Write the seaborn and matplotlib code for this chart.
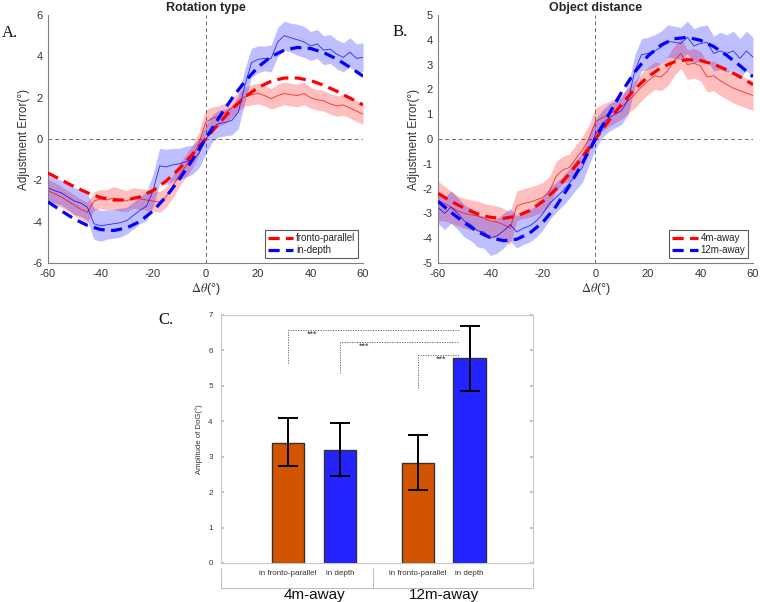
import numpy as np
import pandas as pd
import matplotlib
matplotlib.use("Agg")
import matplotlib.pyplot as plt
import seaborn as sns

# --- data ---
# raw mean curves, sampled every 2.5 deg
theta = np.arange(-60, 60.1, 2.5)

rot_fp_mean = [-2.5, -2.65, -2.8, -3.0, -3.2, -3.4, -3.55, -3.0, -2.9, -2.95,
               -2.85, -2.95, -3.0, -2.85, -2.9, -2.95, -3.0, -3.05, -2.8, -2.3,
               -1.75, -1.3, -0.85, -0.2, 0.8, 1.0, 1.1, 1.25, 1.5, 1.8,
               2.05, 2.15, 2.2, 2.1, 1.95, 2.1, 2.2, 2.15, 2.1, 2.2,
               2.0, 1.9, 1.85, 1.7, 1.6, 1.65, 1.5, 1.35, 1.2]
rot_fp_sem = [0.55, 0.55, 0.5, 0.5, 0.5, 0.5, 0.5, 0.45, 0.45, 0.5,
              0.55, 0.55, 0.5, 0.5, 0.5, 0.5, 0.5, 0.5, 0.5, 0.55,
              0.55, 0.55, 0.55, 0.55, 0.6, 0.55, 0.5, 0.5, 0.45, 0.45,
              0.45, 0.5, 0.5, 0.5, 0.5, 0.55, 0.55, 0.55, 0.55, 0.55,
              0.5, 0.5, 0.5, 0.5, 0.5, 0.5, 0.5, 0.5, 0.5]
rot_id_mean = [-2.35, -2.5, -2.6, -2.8, -3.0, -3.1, -3.3, -4.1, -4.2, -4.15,
               -4.1, -4.05, -3.95, -3.7, -3.45, -3.25, -2.5, -1.3, -1.35, -1.25,
               -1.2, -1.1, -1.0, -0.7, -0.05, 0.5, 0.75, 0.8, 0.9, 1.3,
               2.6, 3.7, 3.85, 3.9, 3.9, 4.7, 5.0, 4.9, 4.8, 4.7,
               4.5, 4.6, 4.3, 4.35, 4.1, 3.95, 4.2, 3.9, 3.95]
rot_id_sem = [0.6, 0.6, 0.6, 0.6, 0.65, 0.65, 0.65, 0.75, 0.75, 0.7,
              0.7, 0.7, 0.65, 0.65, 0.65, 0.7, 0.8, 0.85, 0.85, 0.8,
              0.75, 0.75, 0.7, 0.7, 0.7, 0.65, 0.65, 0.65, 0.7, 0.8,
              0.8, 0.7, 0.65, 0.6, 0.65, 0.7, 0.7, 0.7, 0.75, 0.75,
              0.7, 0.7, 0.7, 0.7, 0.7, 0.7, 0.7, 0.7, 0.7]

dist_4m_mean = [-2.5, -2.6, -2.75, -2.9, -3.0, -3.05, -3.1, -3.2, -3.3, -3.35,
                -3.45, -3.6, -2.7, -2.6, -2.55, -2.45, -2.35, -2.1, -1.5, -1.25,
                -1.15, -0.8, -0.45, 0.0, 0.7, 0.85, 1.0, 1.15, 1.3, 1.55,
                1.8, 2.1, 2.35, 2.55, 2.5, 2.75, 3.15, 3.45, 3.0, 3.05,
                2.95, 2.5, 2.55, 2.35, 2.2, 2.05, 1.95, 1.85, 1.75]
dist_4m_sem = [0.8, 0.7, 0.65, 0.6, 0.6, 0.6, 0.6, 0.6, 0.65, 0.65,
               0.65, 0.65, 0.6, 0.6, 0.6, 0.6, 0.6, 0.6, 0.6, 0.55,
               0.55, 0.55, 0.55, 0.55, 0.55, 0.55, 0.5, 0.5, 0.5, 0.5,
               0.55, 0.55, 0.55, 0.55, 0.55, 0.6, 0.6, 0.6, 0.6, 0.6,
               0.6, 0.6, 0.6, 0.6, 0.6, 0.6, 0.6, 0.6, 0.6]
dist_12m_mean = [-2.75, -3.0, -2.75, -3.0, -3.3, -3.45, -3.7, -3.75, -4.0, -3.9,
                 -3.7, -3.45, -3.75, -3.6, -3.5, -3.3, -3.0, -2.6, -2.35, -2.1,
                 -1.8, -1.45, -1.15, -0.45, 0.2, 0.6, 0.85, 1.0, 1.15, 1.6,
                 2.75, 3.4, 3.45, 3.55, 3.7, 3.95, 3.9, 3.85, 4.1, 3.75,
                 3.85, 3.9, 3.45, 3.55, 3.45, 3.55, 3.25, 3.55, 3.3]
dist_12m_sem = [0.65, 0.65, 0.65, 0.65, 0.65, 0.65, 0.65, 0.65, 0.7, 0.7,
                0.7, 0.65, 0.65, 0.65, 0.65, 0.65, 0.65, 0.65, 0.6, 0.6,
                0.6, 0.6, 0.6, 0.6, 0.6, 0.55, 0.55, 0.55, 0.55, 0.6,
                0.65, 0.65, 0.65, 0.65, 0.65, 0.65, 0.65, 0.65, 0.65, 0.7,
                0.7, 0.7, 0.7, 0.75, 0.75, 0.8, 0.8, 0.8, 0.8]

# DoG fits, sampled every 5 deg
theta_fit = np.arange(-60, 60.1, 5)
rot_fp_fit = [-1.65, -1.98, -2.31, -2.60, -2.83, -2.95, -2.95, -2.80, -2.49, -2.03, -1.44, -0.74, 0.0,
              0.74, 1.44, 2.03, 2.49, 2.80, 2.95, 2.95, 2.83, 2.60, 2.31, 1.98, 1.65]
rot_id_fit = [-3.04, -3.47, -3.87, -4.18, -4.38, -4.43, -4.30, -3.99, -3.48, -2.79, -1.95, -1.01, 0.0,
              1.01, 1.95, 2.79, 3.48, 3.99, 4.30, 4.43, 4.38, 4.18, 3.87, 3.47, 3.04]
dist_4m_fit = [-2.19, -2.51, -2.79, -3.02, -3.16, -3.20, -3.11, -2.88, -2.51, -2.02, -1.41, -0.73, 0.0,
               0.73, 1.41, 2.02, 2.51, 2.88, 3.11, 3.20, 3.16, 3.02, 2.79, 2.51, 2.19]
dist_12m_fit = [-2.51, -2.96, -3.37, -3.73, -3.98, -4.10, -4.04, -3.79, -3.35, -2.71, -1.90, -0.98, 0.0,
                0.98, 1.90, 2.71, 3.35, 3.79, 4.04, 4.10, 3.98, 3.73, 3.37, 2.96, 2.51]

# bar panel
bar_distance = ["4m-away", "4m-away", "12m-away", "12m-away"]
bar_rotation = ["in fronto-parallel", "in depth", "in fronto-parallel", "in depth"]
bar_amp = [3.39, 3.20, 2.83, 5.78]
bar_err_lo = [2.73, 2.45, 2.05, 4.86]
bar_err_hi = [4.08, 3.96, 3.60, 6.70]
sig_from = [0, 1, 2]          # index of bar compared with the last bar
sig_low = [5.65, 5.35, 4.93]
sig_high = [6.58, 6.25, 5.87]
sig_text = ["***", "***", "***"]

# --- style ---
sns.set_theme(style="white")
plt.rcParams["font.family"] = ["Liberation Sans", "DejaVu Sans"]
plt.rcParams["mathtext.fontset"] = "stix"
plt.rcParams["axes.unicode_minus"] = False

RED = "#ff0000"
BLUE = "#0000ff"
GREY = "#6e6e6e"


def curve_panel(ax, title, series, ylim, yticks, legend_labels):
    ax.axhline(0, color=GREY, lw=0.7, ls=(0, (4, 3)), zorder=0.5)
    ax.axvline(0, color=GREY, lw=0.7, ls=(0, (4, 3)), zorder=0.5)
    for mean, sem, fit, color in series:
        m = np.array(mean)
        s = np.array(sem)
        ax.fill_between(theta, m - s, m + s, color=color, alpha=0.25, lw=0, zorder=1)
    for mean, sem, fit, color in series:
        df = pd.DataFrame({"theta": theta, "err": mean})
        sns.lineplot(data=df, x="theta", y="err", color=color, lw=0.6, alpha=0.8,
                     errorbar=None, ax=ax, zorder=2)
    for (mean, sem, fit, color), lab in zip(series, legend_labels):
        df = pd.DataFrame({"theta": theta_fit, "err": fit})
        sns.lineplot(data=df, x="theta", y="err", color=color, lw=2.3,
                     linestyle=(0, (3.5, 2)), errorbar=None, ax=ax, zorder=3, label=lab)
    ax.set_xlim(-60, 60)
    ax.set_ylim(*ylim)
    ax.set_xticks(range(-60, 61, 20))
    ax.set_yticks(yticks)
    ax.set_title(title, fontsize=9, fontweight="bold", pad=3)
    ax.set_xlabel(r"$\Delta\theta$(°)", fontsize=9, color="#333333", labelpad=2)
    ax.set_ylabel("Adjustment Error(°)", fontsize=8.5, color="#333333", labelpad=2)
    ax.tick_params(labelsize=8, colors="#333333", length=0, pad=4)
    sns.despine(ax=ax)
    for sp in ("left", "bottom"):
        ax.spines[sp].set_color("#808080")
        ax.spines[sp].set_linewidth(0.8)
    h, l = ax.get_legend_handles_labels()
    leg = ax.legend(h, l, loc="lower right", fontsize=7, handlelength=2.6,
                    frameon=True, fancybox=False, borderaxespad=0.5,
                    borderpad=0.3, labelspacing=0.2, handletextpad=0.3)
    leg.get_frame().set_edgecolor("#333333")
    leg.get_frame().set_linewidth(0.8)


fig = plt.figure(figsize=(7.6, 6.02), dpi=100)
axA = fig.add_axes([0.0632, 0.5631, 0.4145, 0.412])
axB = fig.add_axes([0.5763, 0.5631, 0.4145, 0.412])
axC = fig.add_axes([0.2908, 0.0648, 0.4105, 0.412])

curve_panel(axA, "Rotation type",
            [(rot_fp_mean, rot_fp_sem, rot_fp_fit, RED),
             (rot_id_mean, rot_id_sem, rot_id_fit, BLUE)],
            (-6, 6), range(-6, 7, 2), ["fronto-parallel", "in-depth"])
curve_panel(axB, "Object distance",
            [(dist_4m_mean, dist_4m_sem, dist_4m_fit, RED),
             (dist_12m_mean, dist_12m_sem, dist_12m_fit, BLUE)],
            (-5, 5), range(-5, 6, 1), ["4m-away", "12m-away"])

# --- bar panel ---
bar_pos = [1.0, 2.0, 3.5, 4.5]
bars = pd.DataFrame({"pos": bar_pos, "amp": bar_amp, "rot": bar_rotation, "dist": bar_distance})
sns.barplot(data=bars, x="pos", y="amp", hue="rot", native_scale=True, dodge=False,
            palette={"in fronto-parallel": "#d35400", "in depth": "#2323ff"},
            saturation=1, width=0.62, edgecolor="#333333", linewidth=1.0,
            errorbar=None, legend=False, ax=axC)
amp = np.array(bar_amp)
axC.errorbar(bar_pos, amp, yerr=[amp - np.array(bar_err_lo), np.array(bar_err_hi) - amp],
             fmt="none", ecolor="black", elinewidth=1.4, capsize=7, capthick=1.4, zorder=5)

x_end = bar_pos[-1] - 0.2
for i, lo, hi, txt in zip(sig_from, sig_low, sig_high, sig_text):
    x0 = bar_pos[i]
    axC.plot([x0, x0, x_end], [lo, hi, hi], color="#555555", lw=0.6,
             ls=(0, (1.5, 1.5)), zorder=4)
    axC.text(x0 + 0.46, hi - 0.13, txt, fontsize=6.5, ha="center", va="center",
             color="#333333")

xmin, xmax = -0.295, 5.725
axC.set_xlim(xmin, xmax)
axC.set_ylim(0, 7)
axC.set_yticks(range(0, 8))
axC.set_xticks(bar_pos)
axC.set_xticklabels(bar_rotation)
axC.set_xlabel("")
axC.set_ylabel("Amplitude of DoG(°)", fontsize=5.6, color="#333333", labelpad=4)
axC.tick_params(axis="x", labelsize=5.8, colors="#333333", length=0, pad=5)
axC.tick_params(axis="y", labelsize=5.8, colors="#333333", direction="in",
                length=2.5, left=True, right=True, color="#bbbbbb", pad=6)
for sp in axC.spines.values():
    sp.set_color("#c8c8c8")
    sp.set_linewidth(0.8)

# group brackets under the bar axis
tr = axC.get_xaxis_transform()
axC.plot([xmin, xmax], [-0.10, -0.10], transform=tr, color="#c0c0c0",
         lw=0.8, clip_on=False)
for xv in [xmin, 2.63, xmax]:
    axC.plot([xv, xv], [-0.02, -0.10], transform=tr, color="#c0c0c0", lw=0.8, clip_on=False)
for grp in ["4m-away", "12m-away"]:
    xs = [p for p, d in zip(bar_pos, bar_distance) if d == grp]
    axC.text(np.mean(xs), -0.128, grp, transform=tr, fontsize=11, ha="center",
             va="center", color="#111111")

# panel letters
for x, y, s in [(0.003, 0.938, "A."), (0.516, 0.940, "B."), (0.208, 0.462, "C.")]:
    fig.text(x, y, s, fontsize=12, family=["Liberation Serif", "DejaVu Serif"], color="#111111")

fig.savefig("out.png", dpi=100)
